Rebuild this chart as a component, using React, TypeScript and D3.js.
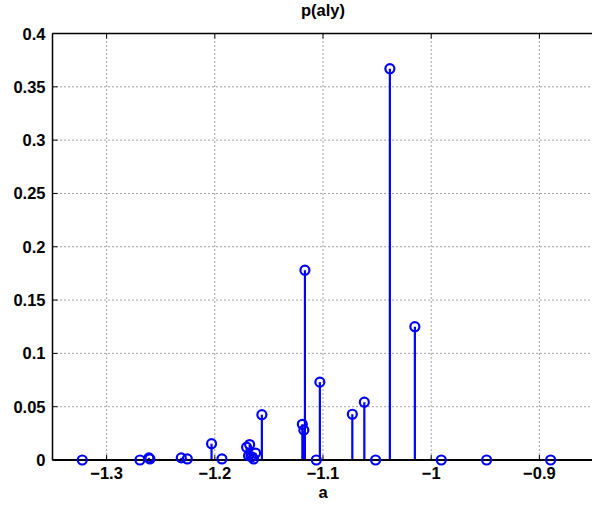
import React from "react";
import * as d3 from "d3";

const aValues = [
  -1.3225, -1.2692, -1.2609, -1.26, -1.231, -1.2254, -1.203, -1.1934,
  -1.1706, -1.1678, -1.1688, -1.166, -1.1623, -1.1641, -1.1565,
  -1.1191, -1.1177, -1.1167, -1.1062, -1.1029, -1.0729, -1.0618, -1.0514,
  -1.0382, -1.0151, -0.9907, -0.9488, -0.8896,
];
const pValues = [
  0, 0, 0.002, 0.001, 0.002, 0.001, 0.0153, 0.001,
  0.012, 0.0145, 0.004, 0.003, 0.0065, 0.001, 0.0425,
  0.0335, 0.028, 0.178, 0, 0.073, 0.0429, 0.0542, 0,
  0.367, 0.125, 0, 0, 0,
];
const xTicks = [-1.3, -1.2, -1.1, -1, -0.9];
const yTicks = [0, 0.05, 0.1, 0.15, 0.2, 0.25, 0.3, 0.35, 0.4];
const titleText = "p(aly)";
const xLabelText = "a";

export default function App() {
  const W = 592, H = 506;
  const left = 52.5, right = 593.5, top = 33.5, bottom = 460;
  const x = d3.scaleLinear().domain([-1.35, -0.85]).range([left, right]);
  const y = d3.scaleLinear().domain([0, 0.4]).range([bottom, top]);
  const fmt = (v: number) => {
    const s = d3.format("")(+v.toFixed(3));
    return s.replace("-", "\u2212");
  };
  const blue = "#0000ff";
  const font = "'Liberation Sans', Arial, Helvetica, sans-serif";
  const fs = 16.5;
  return (
    <svg width={W} height={H} style={{ position: "absolute", left: 0, top: 0, background: "#fff" }}>
      <rect width={W} height={H} fill="#fff" />
      {/* grid */}
      {xTicks.map((t) => (
        <line key={"gx" + t} x1={x(t)} x2={x(t)} y1={top} y2={bottom} stroke="#444" strokeWidth={1} strokeDasharray="1,3" />
      ))}
      {yTicks.map((t) => (
        <line key={"gy" + t} x1={left} x2={right} y1={y(t)} y2={y(t)} stroke="#444" strokeWidth={1} strokeDasharray="1,3" />
      ))}
      {/* ticks */}
      {xTicks.map((t) => (
        <g key={"tx" + t}>
          <line x1={x(t)} x2={x(t)} y1={bottom} y2={bottom - 5} stroke="#000" />
          <line x1={x(t)} x2={x(t)} y1={top} y2={top + 5} stroke="#000" />
          <text x={x(t)} y={bottom + 18.5} textAnchor="middle" fontFamily={font} fontWeight="bold" fontSize={fs}>{fmt(t)}</text>
        </g>
      ))}
      {yTicks.map((t) => (
        <g key={"ty" + t}>
          <line x1={left} x2={left + 5} y1={y(t)} y2={y(t)} stroke="#000" />
          <text x={left - 7} y={y(t) + 6} textAnchor="end" fontFamily={font} fontWeight="bold" fontSize={fs}>{fmt(t)}</text>
        </g>
      ))}
      {/* stems */}
      {aValues.map((a, i) => (
        <line key={"s" + i} x1={x(a)} x2={x(a)} y1={y(0)} y2={y(pValues[i])} stroke={blue} strokeWidth={2.2} />
      ))}
      {/* axes box */}
      <line x1={left} x2={right} y1={top} y2={top} stroke="#000" strokeWidth={1.5} />
      <line x1={left} x2={left} y1={top} y2={bottom} stroke="#000" strokeWidth={1.5} />
      <line x1={right} x2={right} y1={top} y2={bottom} stroke="#000" strokeWidth={1.5} />
      <line x1={left} x2={right} y1={bottom} y2={bottom} stroke="#000" strokeWidth={2} />
      {/* markers */}
      {aValues.map((a, i) => (
        <circle key={"m" + i} cx={x(a)} cy={y(pValues[i])} r={4.5} fill="none" stroke={blue} strokeWidth={2.2} />
      ))}
      <text x={(left + right) / 2} y={16} textAnchor="middle" fontFamily={font} fontWeight="bold" fontSize={fs}>{titleText}</text>
      <text x={(left + right) / 2} y={498} textAnchor="middle" fontFamily={font} fontWeight="bold" fontSize={fs}>{xLabelText}</text>
    </svg>
  );
}
